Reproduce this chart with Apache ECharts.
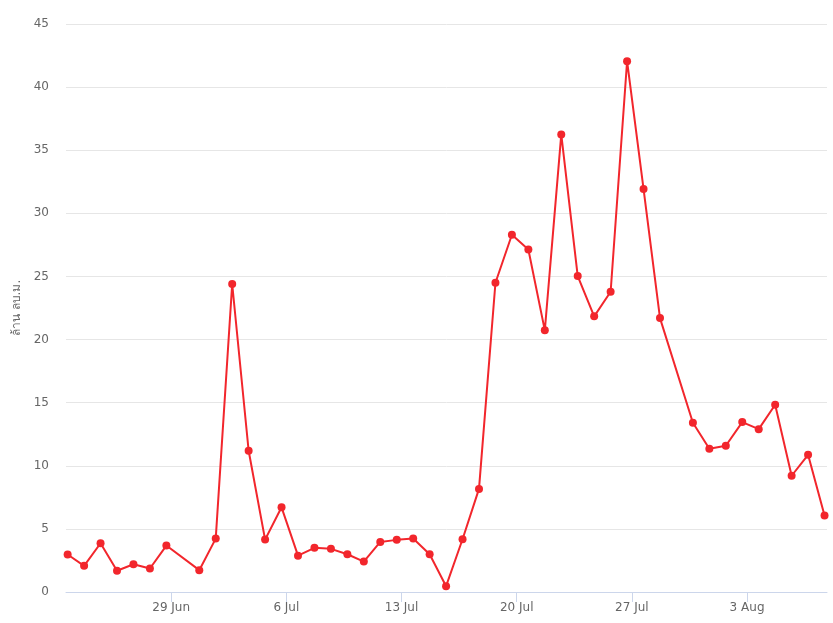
<!DOCTYPE html>
<html>
<head>
<meta charset="utf-8">
<script src="https://cdn.jsdelivr.net/npm/echarts@6/dist/echarts.min.js"></script>
<style>
html,body{margin:0;padding:0;background:#fff;}
#chart{width:833px;height:623px;}
</style>
</head>
<body>
<div id="chart"></div>
<script>
// Data (dates are local UTC+7 midnights)
var dates = [
  "2020-06-23","2020-06-24","2020-06-25","2020-06-26","2020-06-27","2020-06-28","2020-06-29",
  "2020-07-01","2020-07-02","2020-07-03","2020-07-04","2020-07-05","2020-07-06","2020-07-07",
  "2020-07-08","2020-07-09","2020-07-10","2020-07-11","2020-07-12","2020-07-13","2020-07-14",
  "2020-07-15","2020-07-16","2020-07-17","2020-07-18","2020-07-19","2020-07-20","2020-07-21",
  "2020-07-22","2020-07-23","2020-07-24","2020-07-25","2020-07-26","2020-07-27","2020-07-28",
  "2020-07-29","2020-07-31","2020-08-01","2020-08-02","2020-08-03","2020-08-04","2020-08-05",
  "2020-08-06","2020-08-07","2020-08-08"
];
var values = [
  2.97, 2.07, 3.86, 1.68, 2.2, 1.86, 3.68,
  1.73, 4.23, 24.4, 11.19, 4.15, 6.71, 2.88,
  3.5, 3.42, 2.99, 2.41, 3.97, 4.13, 4.24,
  2.99, 0.46, 4.18, 8.17, 24.5, 28.3, 27.14,
  20.73, 36.25, 25.03, 21.84, 23.79, 42.05, 31.93,
  21.7, 13.41, 11.35, 11.59, 13.46, 12.9, 14.84,
  9.21, 10.87, 6.06
];
var tickDates = ["2020-06-29","2020-07-06","2020-07-13","2020-07-20","2020-07-27","2020-08-03"];
var yTicks = [0, 5, 10, 15, 20, 25, 30, 35, 40, 45];
var yAxisTitle = "ล้าน ลบ.ม.";
var monthNames = ["Jan","Feb","Mar","Apr","May","Jun","Jul","Aug","Sep","Oct","Nov","Dec"];

function dayNum(s){
  var p = s.split("-");
  return Date.UTC(+p[0], +p[1]-1, +p[2]) / 86400000;
}
var TZ = 7/24; // local midnight UTC+7 expressed in UTC days
var seriesData = dates.map(function(d, i){ return [dayNum(d) - TZ, values[i]]; });
var tickVals = tickDates.map(dayNum);

var chart = echarts.init(document.getElementById('chart'), null, {renderer:'canvas'});
var font = "'DejaVu Sans', sans-serif";
chart.setOption({
  animation: false,
  backgroundColor: '#ffffff',
  grid: {left: 66, right: 6, top: 24, bottom: 31, containLabel: false},
  xAxis: {
    type: 'value',
    min: seriesData[0][0] - 0.1,
    max: seriesData[seriesData.length-1][0] + 0.15,
    axisLine: {show: true, lineStyle: {color: '#ccd6eb', width: 1}},
    axisTick: {show: true, length: 10, lineStyle: {color: '#ccd6eb'}, customValues: tickVals},
    splitLine: {show: false},
    axisLabel: {
      customValues: tickVals,
      color: '#666666', fontSize: 12, fontFamily: font, margin: 10,
      formatter: function(v){
        var d = new Date(Math.round(v) * 86400000);
        return d.getUTCDate() + ' ' + monthNames[d.getUTCMonth()];
      }
    }
  },
  yAxis: {
    type: 'value',
    min: yTicks[0], max: yTicks[yTicks.length-1], interval: 5,
    name: yAxisTitle,
    nameLocation: 'middle',
    nameRotate: 90,
    nameGap: 42,
    nameTextStyle: {color: '#666666', fontSize: 12, fontFamily: font},
    axisLine: {show: false},
    axisTick: {show: false},
    splitLine: {lineStyle: {color: '#e6e6e6', width: 1}},
    axisLabel: {color: '#666666', fontSize: 12, fontFamily: font, margin: 17}
  },
  series: [{
    type: 'line',
    data: seriesData,
    symbol: 'circle',
    symbolSize: 8,
    showAllSymbol: true,
    lineStyle: {color: '#f2262c', width: 2},
    itemStyle: {color: '#f2262c'}
  }]
});
</script>
</body>
</html>
